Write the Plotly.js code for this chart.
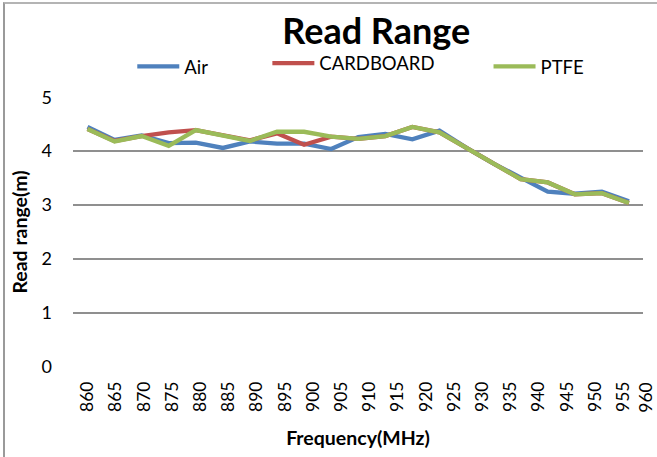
<!DOCTYPE html>
<html>
<head>
<meta charset="utf-8">
<script src="https://cdn.plot.ly/plotly-3.0.1.min.js"></script>
<style>
  html, body { margin: 0; padding: 0; background: #fff; }
  #wrap { position: relative; width: 657px; height: 457px; overflow: hidden; }
  #frame { position: absolute; left: 3px; top: 2px; width: 700px; height: 500px;
           border-left: 2px solid #9a9a9a; border-top: 2px solid #b4b4b4; pointer-events: none; }
  #chart { position: absolute; left: 0; top: 0; width: 657px; height: 457px; }
</style>
</head>
<body>
<div id="wrap">
  <div id="chart"></div>
  <div id="frame"></div>
</div>
<script>
// Measured sweep frequencies (MHz) of the 21 points
const frequencies = [860, 864.8, 869.6, 874.4, 879.2, 884, 888.8, 893.6, 898.4, 903.2, 908,
                     912.8, 917.6, 922.4, 927.2, 932, 936.8, 941.6, 946.4, 951.2, 956];
const airRange       = [4.45, 4.21, 4.29, 4.15, 4.16, 4.06, 4.18, 4.14, 4.14, 4.04, 4.26,
                        4.32, 4.22, 4.38, 4.06, 3.77, 3.51, 3.25, 3.21, 3.25, 3.07];
const cardboardRange = [4.41, 4.19, 4.28, 4.35, 4.39, 4.30, 4.20, 4.33, 4.12, 4.27, 4.23,
                        4.28, 4.45, 4.35, 4.06, 3.77, 3.48, 3.42, 3.20, 3.22, 3.04];
const ptfeRange      = [4.41, 4.18, 4.28, 4.10, 4.39, 4.30, 4.19, 4.36, 4.36, 4.27, 4.23,
                        4.28, 4.45, 4.35, 4.06, 3.77, 3.48, 3.42, 3.20, 3.22, 3.04];
const tickFreqs = [860, 865, 870, 875, 880, 885, 890, 895, 900, 905, 910, 915, 920, 925,
                   930, 935, 940, 945, 950, 955];
const extraTick = 960;
const yTicks = [0, 1, 2, 3, 4, 5];

const FONT = 'Lato, "Open Sans", sans-serif';
const xRange = [857.43, 958.49];

const traces = [
  {x: frequencies, y: airRange, name: 'Air', type: 'scatter', mode: 'lines',
   line: {color: '#4F81BD', width: 4.3}, legend: 'legend'},
  {x: frequencies, y: cardboardRange, name: 'CARDBOARD', type: 'scatter', mode: 'lines',
   line: {color: '#C0504D', width: 4.3}, legend: 'legend2'},
  {x: frequencies, y: ptfeRange, name: 'PTFE', type: 'scatter', mode: 'lines',
   line: {color: '#9BBB59', width: 4.3}, legend: 'legend3'}
];

function legendAt(xp, yp) {
  return {x: xp, y: yp, xref: 'paper', yref: 'paper', xanchor: 'left', yanchor: 'middle',
          orientation: 'h', bgcolor: 'rgba(0,0,0,0)', borderwidth: 0, itemwidth: 42,
          font: {family: FONT, size: 18.5, color: '#000'}};
}

const layout = {
  width: 657, height: 457,
  margin: {l: 73, r: 14, t: 97, b: 90, pad: 0},
  paper_bgcolor: '#fff', plot_bgcolor: '#fff',
  font: {family: FONT, color: '#000'},
  title: {text: 'Read Range', x: 0.532, xref: 'paper', xanchor: 'center',
          y: 0.932, yref: 'container', yanchor: 'middle',
          font: {family: FONT, size: 36, weight: 700, color: '#000'}},
  showlegend: true,
  legend: legendAt(0.104, 1.112),
  legend2: legendAt(0.341, 1.124),
  legend3: legendAt(0.729, 1.112),
  xaxis: {
    type: 'linear', range: xRange, tickmode: 'array', tickvals: tickFreqs,
    ticktext: tickFreqs.map(String), tickangle: -90, ticks: '', showgrid: false,
    zeroline: false, showline: false, ticklabelstandoff: 10,
    tickfont: {family: FONT, size: 17.5, color: '#000'},
    title: {text: 'Frequency(MHz)', standoff: 20,
            font: {family: FONT, size: 19.5, weight: 700, color: '#000'}}
  },
  yaxis: {
    range: [-0.005, 5.005], tickmode: 'array', tickvals: yTicks, ticks: '',
    showgrid: true, gridcolor: '#8f8f8f', gridwidth: 1.5, zeroline: false, showline: false,
    ticklabelstandoff: 20,
    tickfont: {family: FONT, size: 18, color: '#000'},
    title: {text: 'Read range(m)', standoff: 8,
            font: {family: FONT, size: 19.5, weight: 700, color: '#000'}}
  },
  annotations: [{
    text: String(extraTick), xref: 'paper', yref: 'paper',
    x: (extraTick - 1.2 - xRange[0]) / (xRange[1] - xRange[0]), y: 0,
    xanchor: 'center', yanchor: 'top', yshift: -14, textangle: -90, showarrow: false,
    font: {family: FONT, size: 17.5, color: '#000'}
  }]
};

Plotly.newPlot('chart', traces, layout, {displayModeBar: false, staticPlot: true});
</script>
</body>
</html>
